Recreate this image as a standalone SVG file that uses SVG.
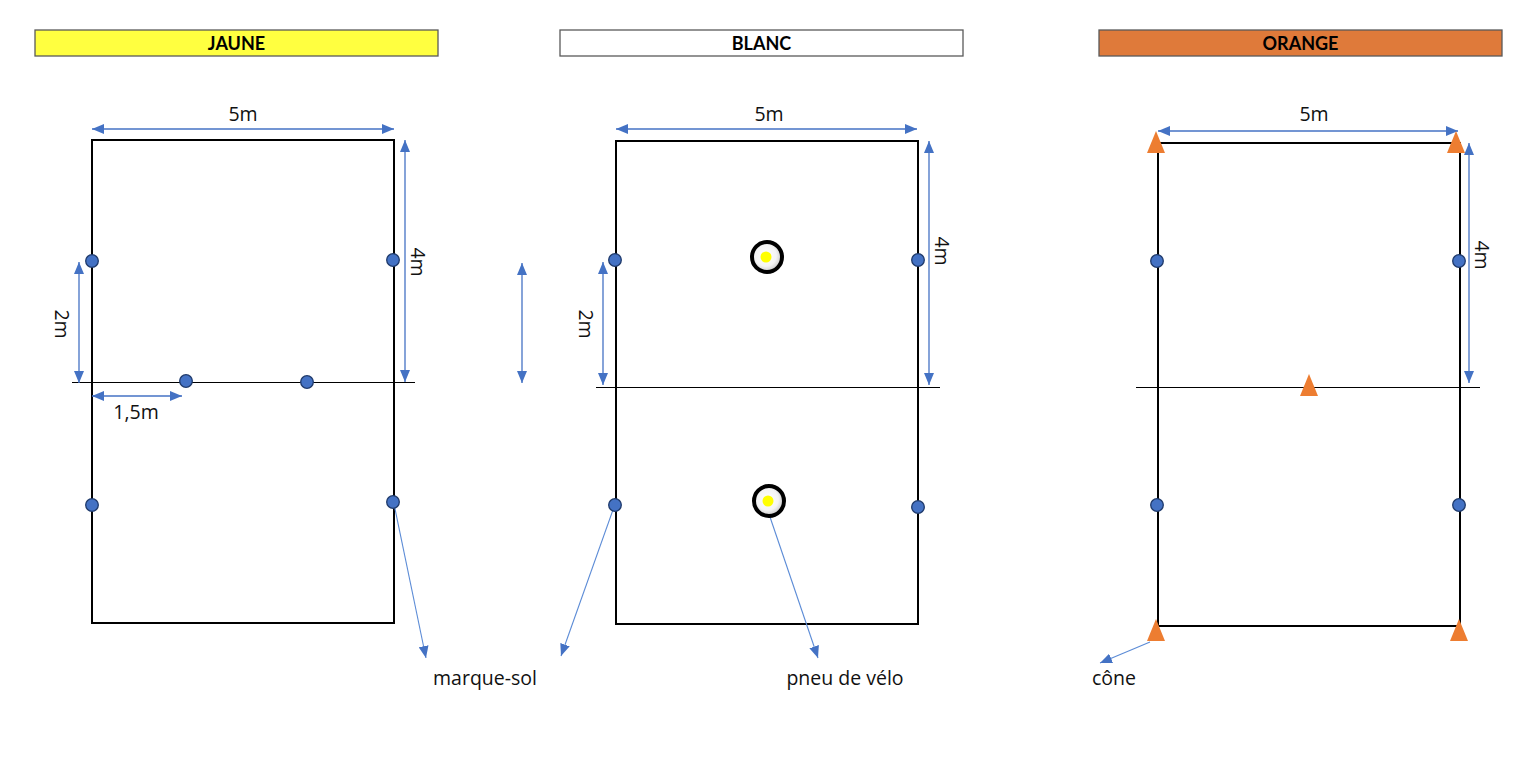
<svg xmlns="http://www.w3.org/2000/svg" width="1529" height="763" viewBox="0 0 1529 763">
<defs>
<style>
.bg{fill:#fff}
.title{stroke:#5a5a5a;stroke-width:1.3}
.tt{font-family:Lato,"Liberation Sans",sans-serif;font-weight:bold;font-size:18px;fill:#000;text-anchor:middle}
.lbl{font-family:"Open Sans","Noto Sans",sans-serif;font-size:19.5px;fill:#111;text-anchor:middle}
.field{fill:none;stroke:#000;stroke-width:2}
.mid{stroke:#000;stroke-width:1}
.dim{stroke:#4472C4;stroke-width:1.3;fill:none;marker-start:url(#ah);marker-end:url(#ah)}
.con{stroke:#5B8BD6;stroke-width:1.1;fill:none;marker-end:url(#ah)}
.dot{fill:#4472C4;stroke:#1F3A6B;stroke-width:1.3}
.cone{fill:#ED7D31}
.tyre{fill:url(#tg);stroke:#000;stroke-width:4}
.yc{fill:#FFFF00}
</style>
<marker id="ah" viewBox="0 0 12 10" refX="12" refY="5" markerWidth="12" markerHeight="10" markerUnits="userSpaceOnUse" orient="auto-start-reverse">
<path d="M0,0 L12,5 L0,10 z" fill="#4472C4"/>
</marker>
<radialGradient id="tg" cx="0.45" cy="0.45" r="0.6">
<stop offset="0" stop-color="#ffffff"/>
<stop offset="0.6" stop-color="#f4f4f4"/>
<stop offset="1" stop-color="#bdbdbd"/>
</radialGradient>
</defs>
<rect class="bg" x="0" y="0" width="1529" height="763"/>

<g id="title-jaune">
<rect class="title" x="35" y="30" width="403" height="26" fill="#FFFF40"/>
<text class="tt" x="236.5" y="50">JAUNE</text>
</g>
<g id="title-blanc">
<rect class="title" x="560" y="30" width="403" height="26" fill="#fff"/>
<text class="tt" x="761.5" y="50">BLANC</text>
</g>
<g id="title-orange">
<rect class="title" x="1099" y="30" width="403" height="26" fill="#DF7A3A"/>
<text class="tt" x="1300.5" y="50">ORANGE</text>
</g>

<g id="field-jaune">
<rect class="field" x="92" y="140" width="302" height="483"/>
<line class="mid" x1="72" y1="382.5" x2="415" y2="382.5"/>
</g>
<g id="field-blanc">
<rect class="field" x="616" y="141" width="302" height="483"/>
<line class="mid" x1="596" y1="387.5" x2="940" y2="387.5"/>
</g>
<g id="field-orange">
<rect class="field" x="1158" y="143" width="302" height="483"/>
<line class="mid" x1="1136" y1="387.5" x2="1480" y2="387.5"/>
</g>

<g id="connectors">
<line class="dim" x1="92" y1="129" x2="394" y2="129"/>
<line class="dim" x1="405" y1="140" x2="405" y2="382"/>
<line class="dim" x1="79" y1="262" x2="79" y2="383"/>
<line class="dim" x1="92" y1="396" x2="182" y2="396"/>
<line class="dim" x1="522" y1="263" x2="522" y2="383"/>
<line class="dim" x1="616" y1="129" x2="917" y2="129"/>
<line class="dim" x1="929" y1="141" x2="929" y2="385"/>
<line class="dim" x1="603" y1="262" x2="603" y2="385"/>
<line class="dim" x1="1158" y1="131" x2="1458" y2="131"/>
<line class="dim" x1="1469" y1="143" x2="1469" y2="383"/>
<line class="con" x1="394" y1="504" x2="426" y2="658"/>
<line class="con" x1="614" y1="507" x2="561" y2="656"/>
<line class="con" x1="770" y1="517" x2="818" y2="658"/>
<line class="con" x1="1150" y1="642" x2="1100" y2="663"/>
</g>

<g id="dim-labels">
<text class="lbl" x="243" y="121">5m</text>
<text class="lbl" transform="translate(411,262) rotate(90)">4m</text>
<text class="lbl" transform="translate(55,324) rotate(90)">2m</text>
<text class="lbl" x="136" y="419">1,5m</text>
<text class="lbl" x="769" y="121">5m</text>
<text class="lbl" transform="translate(935,251) rotate(90)">4m</text>
<text class="lbl" transform="translate(579,324) rotate(90)">2m</text>
<text class="lbl" x="1314" y="121">5m</text>
<text class="lbl" transform="translate(1475,255) rotate(90)">4m</text>
</g>

<g id="marks-jaune">
<circle class="dot" cx="92" cy="261" r="6.3"/>
<circle class="dot" cx="393" cy="260" r="6.3"/>
<circle class="dot" cx="186" cy="381" r="6.3"/>
<circle class="dot" cx="307" cy="382" r="6.3"/>
<circle class="dot" cx="92" cy="505" r="6.3"/>
<circle class="dot" cx="393" cy="502" r="6.3"/>
</g>
<g id="marks-blanc">
<circle class="dot" cx="615" cy="260" r="6.3"/>
<circle class="dot" cx="918" cy="260" r="6.3"/>
<circle class="dot" cx="615" cy="505" r="6.3"/>
<circle class="dot" cx="918" cy="507" r="6.3"/>
</g>
<g id="tyres">
<circle class="tyre" cx="767" cy="257" r="15"/>
<circle class="yc" cx="766" cy="257" r="5.5"/>
<circle class="tyre" cx="769" cy="501" r="15"/>
<circle class="yc" cx="768" cy="501" r="5.5"/>
</g>
<g id="marks-orange">
<circle class="dot" cx="1157" cy="261" r="6.3"/>
<circle class="dot" cx="1459" cy="261" r="6.3"/>
<circle class="dot" cx="1157" cy="505" r="6.3"/>
<circle class="dot" cx="1459" cy="505" r="6.3"/>
</g>
<g id="cones">
<polygon class="cone" points="1156,131 1165,153 1147,153"/>
<polygon class="cone" points="1456,131 1465,153 1447,153"/>
<polygon class="cone" points="1309,374 1318,396 1300,396"/>
<polygon class="cone" points="1156,619 1165,641 1147,641"/>
<polygon class="cone" points="1459,619 1468,641 1450,641"/>
</g>

<g id="labels">
<text class="lbl" x="485" y="685">marque-sol</text>
<text class="lbl" x="845" y="685">pneu de vélo</text>
<text class="lbl" x="1114" y="685">cône</text>
</g>
</svg>
